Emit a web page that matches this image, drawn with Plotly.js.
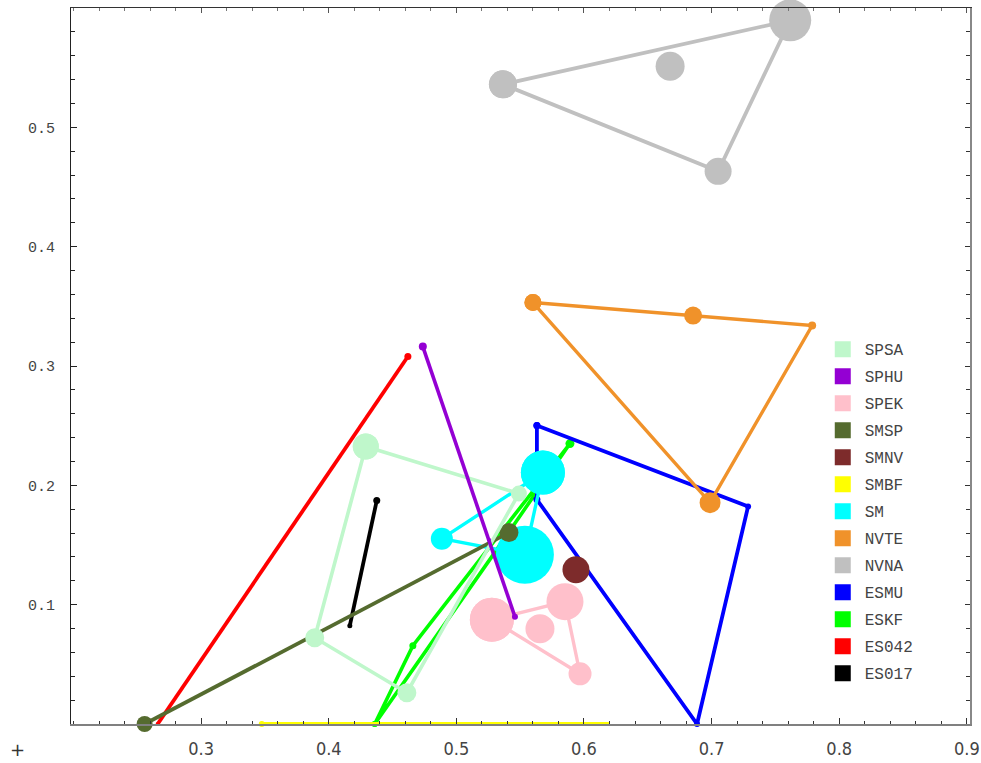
<!DOCTYPE html>
<html>
<head>
<meta charset="utf-8">
<script src="https://cdn.plot.ly/plotly-3.0.1.min.js"></script>
<style>
html,body{margin:0;padding:0;background:#fff;}
#chart{width:981px;height:763px;}
</style>
</head>
<body>
<div id="chart"></div>
<script>
// ---- series names (legend order) ----
const seriesNames = ["SPSA","SPHU","SPEK","SMSP","SMNV","SMBF","SM","NVTE","NVNA","ESMU","ESKF","ES042","ES017"];
const seriesColors = ["#bff7cb","#9400d3","#ffc0cb","#556b2f","#7d2b2b","#ffff00","#00ffff","#f0922a","#c0c0c0","#0000ff","#00ff00","#ff0000","#000000"];

// ---- path data (x, y, marker weight) ----
const spsaX = [0.429, 0.549, 0.4612, 0.389, 0.429];
const spsaY = [0.2325, 0.1931, 0.0262, 0.0723, 0.2325];
const spsaS = [26, 16, 19, 19, 26];

const sphuX = [0.4737, 0.5255, 0.5459];
const sphuY = [0.3163, 0.1545, 0.0899];
const sphuS = [8, 4, 6];

const spekX = [0.5278, 0.5851, 0.5969, 0.5278];
const spekY = [0.0874, 0.1025, 0.0421, 0.0874];
const spekS = [44, 37, 23, 44];
const spekExtraX = [0.5655];
const spekExtraY = [0.0799];
const spekExtraS = [29];

const smspX = [0.2557, 0.5412];
const smspY = [0.0, 0.1604];
const smspS = [16, 19];

const smnvX = [0.5937];
const smnvY = [0.1293];
const smnvS = [27];

const smbfX = [0.3475, 0.6188];
const smbfY = [0.0, 0.0];
const smbfS = [6, 4];

const smX = [0.5678, 0.4886, 0.5537, 0.5678];
const smY = [0.2107, 0.1553, 0.1419, 0.2107];
const smS = [44, 22, 58, 44];

const nvteX = [0.560, 0.6855, 0.7788, 0.6988, 0.560];
const nvteY = [0.3532, 0.3423, 0.3339, 0.1855, 0.3532];
const nvteS = [17, 18, 8, 21, 17];

const nvnaX = [0.5365, 0.7616, 0.7051, 0.5365];
const nvnaY = [0.536, 0.5897, 0.4631, 0.536];
const nvnaS = [28, 42, 27, 28];
const nvnaExtraX = [0.6675];
const nvnaExtraY = [0.5511];
const nvnaExtraS = [29];

const esmuX = [0.5631, 0.7286, 0.6886, 0.5631, 0.5631];
const esmuY = [0.2502, 0.1823, 0.0, 0.1881, 0.2502];
const esmuS = [7, 6, 6, 7, 7];

const eskfX = [0.436, 0.4659, 0.589, 0.530, 0.436];
const eskfY = [0.0, 0.0656, 0.235, 0.1436, 0.0];
const eskfS = [6, 7, 9, 6, 6];

const es042X = [0.2659, 0.462];
const es042Y = [0.0, 0.308];
const es042S = [4, 7];

const es017X = [0.4165, 0.4376];
const es017Y = [0.0824, 0.1872];
const es017S = [5, 7];

// ---- tick labels ----
const xTicks = [0.3, 0.4, 0.5, 0.6, 0.7, 0.8, 0.9];
const xTickText = ["0.3","0.4","0.5","0.6","0.7","0.8","0.9"];
const yTicks = [0.1, 0.2, 0.3, 0.4, 0.5];
const yTickText = ["0.1","0.2","0.3","0.4","0.5"];

function col(name){ return seriesColors[seriesNames.indexOf(name)]; }
function path(name, x, y, s, w){
  return {type:"scatter", mode:"lines+markers", x:x, y:y, showlegend:false, hoverinfo:"skip",
    line:{color:col(name), width:(w||3.8)},
    marker:{color:col(name), size:s, opacity:1, line:{width:0}}, cliponaxis:false};
}
function pts(name, x, y, s){
  return {type:"scatter", mode:"markers", x:x, y:y, showlegend:false, hoverinfo:"skip",
    marker:{color:col(name), size:s, opacity:1, line:{width:0}}, cliponaxis:false};
}

const traces = [
  path("ES017", es017X, es017Y, es017S),
  path("ES042", es042X, es042Y, es042S),
  path("ESKF", eskfX, eskfY, eskfS, 3.6),
  path("ESMU", esmuX, esmuY, esmuS),
  path("NVNA", nvnaX, nvnaY, nvnaS),
  pts("NVNA", nvnaExtraX, nvnaExtraY, nvnaExtraS),
  path("NVTE", nvteX, nvteY, nvteS, 3.4),
  path("SM", smX, smY, smS, 3.4),
  path("SMBF", smbfX, smbfY, smbfS),
  path("SMNV", smnvX, smnvY, smnvS),
  path("SMSP", smspX, smspY, smspS),
  path("SPEK", spekX, spekY, spekS, 3.4),
  pts("SPEK", spekExtraX, spekExtraY, spekExtraS),
  path("SPSA", spsaX, spsaY, spsaS, 3.6),
  path("SPHU", sphuX, sphuY, sphuS, 3.6)
];

// legend entries
seriesNames.forEach(function(n, i){
  traces.push({type:"scatter", mode:"markers", x:[null], y:[null], name:n,
    legendgroup:"g"+i, showlegend:true,
    marker:{symbol:"square", size:16, opacity:1, color:seriesColors[i], line:{width:0}}});
});
// frame axes (top/right)
traces.push({type:"scatter", mode:"markers", x:[null], y:[null], xaxis:"x2", yaxis:"y2", showlegend:false, hoverinfo:"skip"});

const xr = [0.198, 0.9025];
const yr = [0, 0.6];

const layout = {
  width:981, height:763,
  margin:{l:71, r:11, t:8, b:39},
  paper_bgcolor:"#ffffff", plot_bgcolor:"#ffffff",
  showlegend:true,
  legend:{x:0.834, xanchor:"left", y:0.547, yanchor:"top", traceorder:"grouped", tracegroupgap:3.2, itemwidth:34,
    bgcolor:"rgba(0,0,0,0)", font:{family:"Liberation Mono, DejaVu Sans Mono, monospace", size:16, color:"#444"}},
  xaxis:{range:xr, showgrid:false, zeroline:false, showline:true, linecolor:"#808080", linewidth:2,
    tickmode:"array", tickvals:xTicks, ticktext:xTickText, ticks:"inside", ticklen:6, tickcolor:"#333", tickwidth:1,
    ticklabelstandoff:7,
    tickfont:{family:"Liberation Sans Narrow, DejaVu Sans Condensed, Roboto Condensed, Roboto, sans-serif", size:18, color:"#444"},
    minor:{tickmode:"linear", tick0:0, dtick:0.02, ticks:"inside", ticklen:3, tickcolor:"#333", showgrid:false}},
  yaxis:{range:yr, showgrid:false, zeroline:false, showline:true, linecolor:"#222", linewidth:1,
    tickmode:"array", tickvals:yTicks, ticktext:yTickText, ticks:"inside", ticklen:6, tickcolor:"#222", tickwidth:1,
    ticklabelstandoff:12,
    tickfont:{family:"Liberation Mono, DejaVu Sans Mono, monospace", size:15, color:"#444"},
    minor:{tickmode:"linear", tick0:0, dtick:0.02, ticks:"inside", ticklen:4, tickcolor:"#222", showgrid:false}},
  xaxis2:{range:xr, overlaying:"x", side:"top", anchor:"y2", showgrid:false, zeroline:false, showline:true,
    linecolor:"#333", linewidth:1, showticklabels:false, tickmode:"array", tickvals:xTicks, ticks:"inside", ticklen:5, tickcolor:"#555",
    minor:{tickmode:"linear", tick0:0, dtick:0.02, ticks:"inside", ticklen:3, tickcolor:"#777", showgrid:false}},
  yaxis2:{range:yr, overlaying:"y", side:"right", anchor:"x2", showgrid:false, zeroline:false, showline:true,
    linecolor:"#888", linewidth:2, showticklabels:false, tickmode:"array", tickvals:yTicks, ticks:"inside", ticklen:5, tickcolor:"#333",
    minor:{tickmode:"linear", tick0:0, dtick:0.02, ticks:"inside", ticklen:4, tickcolor:"#333", showgrid:false}},
  annotations:[{xref:"paper", yref:"paper", x:-0.0595, y:-0.0363, text:"+", showarrow:false,
    font:{family:"DejaVu Sans", size:18, color:"#333"}, xanchor:"center", yanchor:"middle"}]
};

Plotly.newPlot("chart", traces, layout, {staticPlot:true, displayModeBar:false});
</script>
</body>
</html>
